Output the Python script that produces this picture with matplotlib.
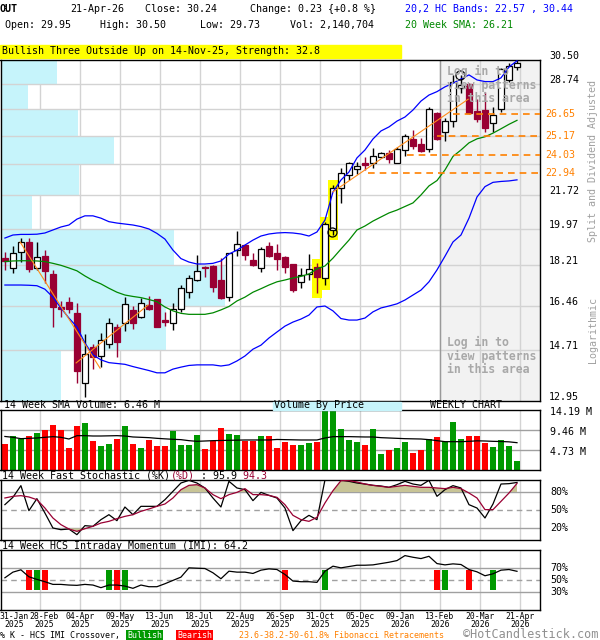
import matplotlib
matplotlib.use("Agg")
import matplotlib.pyplot as plt
from matplotlib.patches import Rectangle
from matplotlib.transforms import blended_transform_factory, offset_copy

plt.rcParams['font.family'] = ['DejaVu Sans Mono']

W, H = 600, 640

# weekly candles, 31-Jan-2025 .. 21-Apr-2026
opens = [18.54, 18.08, 18.81, 19.29, 18.10, 18.63, 17.82, 16.41, 16.59, 16.15,
         13.54, 14.84, 14.50, 14.93, 15.58, 15.74, 16.28, 16.00, 16.48, 16.72,
         15.87, 15.74, 16.31, 17.04, 17.55, 18.14, 18.18, 17.55, 16.80, 18.92,
         19.16, 18.45, 18.08, 19.11, 18.79, 18.60, 18.27, 17.45, 17.82, 18.14,
         17.63, 19.90, 22.09, 22.83, 23.18, 23.56, 23.52, 23.91, 24.12, 23.56,
         24.33, 24.99, 24.70, 24.39, 26.72, 25.47, 26.19, 28.41, 28.70, 26.85,
         26.90, 26.02, 26.95, 29.01, 29.95]
highs = [18.83, 19.11, 19.48, 19.48, 19.32, 18.92, 18.00, 16.66, 16.83, 16.55,
         15.32, 14.93, 15.37, 15.94, 15.71, 16.80, 16.44, 16.76, 16.86, 16.74,
         16.21, 16.55, 17.33, 17.77, 18.68, 18.16, 18.23, 18.57, 18.79, 19.85,
         19.18, 18.79, 19.08, 19.29, 19.20, 18.63, 18.29, 18.08, 18.73, 18.30,
         20.31, 22.28, 23.24, 23.58, 23.62, 23.91, 24.43, 24.22, 24.33, 24.53,
         25.35, 25.58, 25.06, 27.12, 26.74, 26.34, 29.39, 29.39, 28.77, 27.64,
         28.17, 27.12, 29.86, 30.30, 30.50]
lows = [18.00, 17.88, 18.35, 17.92, 18.00, 17.43, 15.58, 16.00, 16.15, 13.54,
        13.08, 14.02, 14.10, 14.78, 14.48, 15.45, 15.51, 15.94, 16.28, 15.58,
        15.63, 15.48, 16.21, 16.78, 17.52, 17.67, 17.04, 16.72, 16.66, 18.63,
        18.45, 18.18, 17.92, 18.60, 18.00, 17.88, 17.04, 17.19, 17.55, 16.97,
        17.33, 19.65, 21.28, 22.56, 22.91, 23.14, 23.26, 23.87, 23.56, 23.52,
        23.96, 24.37, 24.22, 24.22, 24.95, 24.87, 25.80, 28.09, 26.66, 26.12,
        25.43, 25.47, 26.79, 28.88, 29.73]
closes = [18.41, 18.77, 19.29, 18.05, 18.60, 17.97, 16.41, 16.31, 16.31, 13.98,
          14.57, 14.48, 15.09, 15.74, 15.03, 16.51, 15.74, 16.55, 16.32, 15.61,
          15.79, 16.31, 17.19, 17.63, 17.96, 18.08, 17.26, 16.76, 18.77, 19.20,
          18.68, 18.23, 18.95, 18.64, 18.50, 18.14, 17.11, 17.77, 18.03, 17.70,
          20.19, 22.09, 22.95, 23.56, 23.37, 23.42, 23.96, 24.16, 23.76, 24.37,
          25.23, 24.57, 24.29, 26.95, 25.03, 26.19, 28.89, 28.65, 26.68, 26.28,
          25.69, 26.56, 29.81, 30.01, 30.24]

# 20,2 bands and 20 week SMA
upper_band = [19.50, 19.65, 19.68, 19.68, 19.69, 19.75, 19.90, 20.05, 20.15, 20.45,
              20.62, 20.62, 20.50, 20.32, 20.25, 20.20, 20.15, 20.07, 19.95, 19.73,
              19.45, 18.92, 18.52, 18.36, 18.27, 18.27, 18.30, 18.41, 18.73, 18.92,
              19.16, 19.40, 19.60, 19.70, 19.75, 19.77, 19.75, 19.70, 19.60, 19.80,
              20.40, 21.89, 22.56, 23.02, 23.85, 24.33, 25.01, 25.52, 25.78, 26.16,
              26.43, 26.90, 27.51, 27.93, 28.17, 28.51, 28.77, 29.08, 29.38, 29.01,
              28.89, 28.89, 29.16, 29.97, 30.44]
lower_band = [17.33, 17.33, 17.33, 17.32, 17.30, 17.15, 16.81, 16.36, 15.95, 15.60,
              14.98, 14.54, 14.36, 14.26, 14.23, 14.20, 14.12, 14.05, 13.98, 13.90,
              13.90, 14.03, 14.10, 14.16, 14.18, 14.18, 14.18, 14.14, 14.18, 14.32,
              14.50, 14.75, 14.90, 15.17, 15.40, 15.63, 15.79, 15.91, 16.07, 16.40,
              16.44, 16.24, 15.93, 15.87, 15.87, 15.95, 16.20, 16.36, 16.44, 16.53,
              16.69, 16.90, 17.11, 17.47, 18.00, 18.63, 19.31, 19.65, 20.50, 21.62,
              22.19, 22.43, 22.48, 22.51, 22.57]
sma20 = [18.38, 18.41, 18.42, 18.42, 18.41, 18.38, 18.30, 18.21, 18.09, 17.96,
         17.73, 17.53, 17.38, 17.19, 17.02, 16.90, 16.84, 16.79, 16.71, 16.62,
         16.40, 16.24, 16.14, 16.10, 16.10, 16.10, 16.16, 16.28, 16.42, 16.65,
         16.81, 17.02, 17.17, 17.33, 17.47, 17.55, 17.64, 17.71, 17.82, 18.05,
         18.18, 18.54, 18.97, 19.40, 19.90, 20.10, 20.35, 20.56, 20.77, 20.92,
         21.11, 21.30, 21.73, 22.23, 22.53, 23.14, 23.94, 24.33, 24.77, 25.02,
         25.15, 25.38, 25.66, 25.95, 26.21]

volume = [6.23, 8.04, 7.33, 8.12, 8.83, 9.54, 10.73, 9.46, 5.21, 10.49,
          11.20, 6.94, 5.76, 6.23, 7.33, 10.49, 6.23, 5.21, 7.10, 5.76,
          5.76, 9.31, 5.91, 5.91, 8.36, 4.97, 6.78, 9.94, 8.60, 8.36,
          6.94, 6.94, 8.04, 8.04, 5.21, 6.70, 5.91, 5.91, 6.39, 6.70,
          15.60, 15.20, 9.70, 7.10, 6.62, 5.91, 9.70, 3.79, 4.73, 5.21,
          6.62, 4.02, 4.73, 7.26, 7.81, 6.62, 11.36, 7.33, 8.04, 8.04,
          6.47, 5.44, 7.10, 5.68, 2.14]
vol_sma14 = [7.93, 7.73, 7.41, 7.49, 7.57, 7.73, 7.89, 7.73, 7.33, 8.12,
             8.12, 8.04, 8.04, 8.08, 8.12, 8.04, 7.81, 7.73, 7.65, 7.49,
             7.37, 7.26, 7.18, 6.94, 6.78, 6.86, 6.94, 6.98, 7.02, 7.06,
             7.10, 7.10, 7.10, 7.10, 7.22, 7.18, 7.14, 7.10, 7.10, 7.10,
             7.57, 7.89, 7.89, 7.89, 7.85, 7.81, 7.81, 7.65, 7.57, 7.49,
             7.41, 7.37, 7.33, 7.18, 6.94, 6.70, 6.70, 6.70, 6.78, 6.90,
             6.86, 6.78, 6.74, 6.66, 6.46]

stoch_k = [58.9, 71.1, 90.6, 48.9, 68.9, 45.0, 20.0, 17.2, 18.3, 8.9,
           23.9, 22.8, 33.9, 42.2, 32.2, 55.0, 42.2, 56.1, 56.1, 56.1,
           67.2, 81.1, 95.0, 99.4, 95.0, 86.7, 70.0, 55.0, 97.8, 86.7,
           83.9, 65.6, 79.4, 74.4, 70.0, 53.3, 15.6, 32.2, 41.1, 33.9,
           100.0, 100.0, 100.0, 97.8, 95.0, 93.3, 91.1, 90.0, 87.8, 92.2,
           97.8, 93.3, 91.1, 99.4, 72.8, 83.9, 90.6, 86.7, 58.9, 53.3,
           36.7, 60.0, 93.3, 93.9, 95.9]
stoch_d = [70.0, 72.8, 73.9, 71.7, 67.2, 53.3, 36.7, 25.6, 18.3, 14.4,
           18.9, 22.8, 28.3, 31.1, 35.6, 39.4, 42.2, 47.8, 51.7, 56.1,
           60.0, 70.0, 83.9, 91.1, 92.2, 86.7, 75.6, 68.9, 75.6, 79.4,
           85.6, 75.6, 75.6, 74.4, 71.1, 58.9, 41.1, 33.9, 31.1, 37.8,
           61.7, 82.2, 98.9, 98.9, 96.7, 93.3, 91.1, 89.4, 87.8, 89.4,
           91.1, 89.4, 87.8, 87.8, 86.7, 85.6, 87.8, 85.6, 78.3, 70.0,
           50.6, 50.6, 64.4, 78.3, 94.3]

imi = [53.3, 62.8, 66.7, 55.0, 50.6, 46.7, 42.2, 42.2, 41.1, 40.6,
       42.2, 41.1, 36.7, 41.1, 41.1, 39.4, 35.6, 41.1, 38.3, 38.3,
       43.3, 48.9, 54.4, 70.0, 69.4, 68.9, 61.7, 51.7, 64.4, 62.8,
       62.8, 60.6, 66.1, 68.3, 67.2, 58.9, 47.8, 46.7, 46.7, 45.6,
       64.4, 72.8, 70.0, 72.2, 74.4, 74.4, 75.0, 77.2, 79.4, 82.2,
       90.6, 87.8, 85.6, 89.4, 77.2, 75.0, 76.7, 75.6, 67.2, 63.3,
       56.7, 60.0, 66.1, 67.2, 64.2]
bull_cross = [4, 13, 15, 40, 55, 61]
bear_cross = [3, 5, 14, 35, 54, 58]

# volume by price, price bands between the axis ticks (relative volume)
price_ticks = [12.95, 14.71, 16.46, 18.21, 19.97, 21.72, 23.48, 25.23, 26.99, 28.74, 30.50]
vbp_volume = [60, 165, 224, 173, 31, 78, 113, 77, 27, 56]

fib_levels = [26.65, 25.17, 24.03, 22.94]
fib_start = [56, 54, 50.2, 45.4]
trend_lines = [((1.9, 19.31), (11.9, 14.06)),
               ((8.9, 14.25), (17.9, 16.48)),
               ((41.0, 21.90), (57.9, 27.64))]
pattern_idx = [39, 40, 41]
circles = [(40.9, 19.81), (56.9, 29.39)]

date_idx = [0, 4, 9, 14, 19, 24, 29, 34, 39, 44, 49, 54, 59, 64]
date_labels = ['31-Jan\n2025', '28-Feb\n2025', '04-Apr\n2025', '09-May\n2025',
               '13-Jun\n2025', '18-Jul\n2025', '22-Aug\n2025', '26-Sep\n2025',
               '31-Oct\n2025', '05-Dec\n2025', '09-Jan\n2026', '13-Feb\n2026',
               '20-Mar\n2026', '21-Apr\n2026']

MAROON = '#990033'
FS = 7.2

x = list(range(len(closes)))
up = [c >= o for o, c in zip(opens, closes)]
grid_x = [i + 0.375 for i in date_idx[1:]]
xlim = (-0.55, 66.875)

fig = plt.figure(figsize=(W / 100, H / 100), dpi=100)


def rect(x0, y0, x1, y1):
    return [x0 / W, 1 - y1 / H, (x1 - x0) / W, (y1 - y0) / H]


def ftext(px, py, s, **kw):
    kw.setdefault('fontsize', FS)
    kw.setdefault('va', 'center')
    fig.text(px / W, 1 - py / H, s, **kw)


def style(ax):
    ax.set_xlim(*xlim)
    ax.set_xticks([])
    ax.set_yticks([])
    for sp in ax.spines.values():
        sp.set_linewidth(1.0)
        sp.set_color('black')
    for gx in grid_x:
        ax.axvline(gx, color='#d3d3d3', lw=1.0, zorder=0.5)


# ---------- header ----------
ftext(0, 9, 'OUT', fontweight='bold')
ftext(70, 9, '21-Apr-26')
ftext(145, 9, 'Close: 30.24')
ftext(250, 9, 'Change: 0.23 {+0.8 %}')
ftext(405, 9, '20,2 HC Bands: 22.57 , 30.44', color='#0000ff')
ftext(5, 25, 'Open: 29.95')
ftext(100, 25, 'High: 30.50')
ftext(200, 25, 'Low: 29.73')
ftext(290, 25, 'Vol: 2,140,704')
ftext(405, 25, '20 Week SMA: 26.21', color='#008800')
fig.patches.append(Rectangle((0, 1 - 58 / H), 401 / W, 13 / H, transform=fig.transFigure,
                             color='#ffff00', zorder=0))
ftext(2, 51.5, 'Bullish Three Outside Up on 14-Nov-25, Strength: 32.8')

# ---------- main price panel ----------
ax = fig.add_axes(rect(0.5, 60, 540, 401))
style(ax)
ax.set_yscale('log')
ax.set_ylim(price_ticks[0], price_ticks[-1])
ax.minorticks_off()
ax.set_yticks([])

for p in price_ticks[1:-1]:
    ax.axhline(p, color='#d3d3d3', lw=1.0, zorder=1.5)

# gray login area
ax.axvspan(54.375, xlim[1], color='#f2f2f2', zorder=0.2, lw=0)
ax.axvline(54.375, color='#9a9a9a', lw=1.0, zorder=1.6)

# volume by price
vmax = max(vbp_volume)
for k, v in enumerate(vbp_volume):
    lo, hi = price_ticks[k], price_ticks[k + 1]
    ax.barh(lo, v / vmax * 28.0, height=hi - lo, left=xlim[0], align='edge',
            color='#c6f4fb', lw=0, zorder=1)

# pattern highlight
for i in pattern_idx:
    ax.bar(i, highs[i] * 1.012 - lows[i] * 0.988, bottom=lows[i] * 0.988, width=1.25,
           color='#ffff00', lw=0, zorder=2)

# candles
for i in x:
    col = 'black' if up[i] else MAROON
    ax.vlines(i, lows[i], highs[i], color=col, lw=1.0, zorder=3)
    lo, hi = min(opens[i], closes[i]), max(opens[i], closes[i])
    ax.bar(i, hi - lo, bottom=lo, width=0.75,
           facecolor='white' if up[i] else MAROON, edgecolor=col, lw=0.9, zorder=4)

ax.plot(x, upper_band, color='#0000ff', lw=0.9, zorder=5)
ax.plot(x, lower_band, color='#0000ff', lw=0.9, zorder=5)
ax.plot(x, sma20, color='#008800', lw=0.9, zorder=5)

for (x0, p0), (x1, p1) in trend_lines:
    ax.plot([x0, x1], [p0, p1], color='#ff8c1a', lw=0.8, zorder=5)
for cx, cp in circles:
    ax.plot(cx, cp, 'o', ms=6.5, mfc='none', mec='black', mew=0.9, zorder=6)

for lvl, xs in zip(fib_levels, fib_start):
    ax.plot([xs, xlim[1]], [lvl, lvl], color='#ff8000', lw=1.2, dashes=(4, 3), zorder=5)

ax.text(55.2, 30.1, 'Log in to\nview patterns\nin this area', fontsize=8.3, fontweight='bold',
        color='#a8a8a8', va='top', ha='left', linespacing=1.05, zorder=7)
ax.text(55.2, 15.25, 'Log in to\nview patterns\nin this area', fontsize=8.3, fontweight='bold',
        color='#a8a8a8', va='top', ha='left', linespacing=1.05, zorder=7)

tr = blended_transform_factory(fig.transFigure, ax.transData)
tr_up = offset_copy(tr, fig=fig, x=0, y=4, units='dots')
for p in price_ticks:
    if 22.5 < p < 27.5:
        continue
    ax.text(549 / W, p, f'{p:.2f}', transform=tr_up, fontsize=FS, va='center', clip_on=False)
for lvl in fib_levels:
    ax.text(545 / W, lvl, f'{lvl:.2f}', transform=tr, fontsize=FS, va='center',
            color='#ff8000', clip_on=False)

ftext(593, 161, 'Split and Dividend Adjusted', rotation=90, ha='center', color='#a0a0a0')
ftext(593, 330, 'Logarithmic', rotation=90, ha='center', color='#a0a0a0')

# ---------- volume panel ----------
ftext(4, 405, '14 Week SMA Volume: 6.46 M')
fig.patches.append(Rectangle((273 / W, 1 - 410 / H), 128 / W, 8 / H, transform=fig.transFigure,
                             color='#c6f4fb', zorder=0))
ftext(274, 405, 'Volume By Price')
ftext(430, 405, 'WEEKLY CHART')

axv = fig.add_axes(rect(0.5, 410, 540, 470))
style(axv)
vol_top = 14.19
axv.set_ylim(0, vol_top)
for g in (vol_top / 3, vol_top * 2 / 3):
    axv.axhline(g, color='#a0a0a0', lw=1.0, zorder=0.6)
axv.bar(x, volume, width=0.75, color=['#009900' if u else '#ff0000' for u in up], zorder=2)
axv.plot(x, vol_sma14, color='black', lw=0.9, zorder=3)
trv = blended_transform_factory(fig.transFigure, axv.transData)
trv = offset_copy(trv, fig=fig, x=0, y=-2, units='dots')
for g in (vol_top, vol_top * 2 / 3, vol_top / 3):
    axv.text(550 / W, g, f'{g:.2f} M', transform=trv, fontsize=FS, va='center', clip_on=False)

# ---------- stochastic panel ----------
ftext(2, 476, '14 Week Fast Stochastic (%K)')
ftext(2 + 28 * 6.02, 476, '(%D)', color=MAROON)
ftext(2 + 32 * 6.02, 476, ' : 95.9')
ftext(2 + 39 * 6.02, 476, ' 94.3', color=MAROON)

axs = fig.add_axes(rect(0.5, 480, 540, 540))
style(axs)
axs.set_ylim(0, 100)
axs.axhline(80, color='#a0a0a0', lw=1.0, zorder=0.6)
axs.axhline(20, color='#a0a0a0', lw=1.0, zorder=0.6)
axs.axhline(50, color='#a0a0a0', lw=1.0, dashes=(4, 3), zorder=0.6)
axs.fill_between(x, stoch_d, 80, where=[d > 80 for d in stoch_d], interpolate=True,
                 color='#c8c496', lw=0, zorder=1)
axs.fill_between(x, stoch_d, 20, where=[d < 20 for d in stoch_d], interpolate=True,
                 color='#c8c496', lw=0, zorder=1)
axs.plot(x, stoch_k, color='black', lw=0.9, zorder=3)
axs.plot(x, stoch_d, color=MAROON, lw=0.9, zorder=3)
trs = blended_transform_factory(fig.transFigure, axs.transData)
for g in (80, 50, 20):
    axs.text(550 / W, g, f'{g}%', transform=trs, fontsize=FS, va='center', clip_on=False)

# ---------- IMI panel ----------
ftext(2, 546, '14 Week HCS Intraday Momentum (IMI): 64.2')

axi = fig.add_axes(rect(0.5, 550, 540, 609.5))
style(axi)
axi.set_ylim(0, 100)
axi.axhline(70, color='#a0a0a0', lw=1.0, zorder=0.6)
axi.axhline(30, color='#a0a0a0', lw=1.0, zorder=0.6)
axi.axhline(50, color='#a0a0a0', lw=1.0, dashes=(4, 3), zorder=0.6)
axi.bar(bull_cross, 34, bottom=33, width=0.75, color='#009900', zorder=2)
axi.bar(bear_cross, 34, bottom=33, width=0.75, color='#ff0000', zorder=2)
axi.plot(x, imi, color='black', lw=0.9, zorder=3)
tri = blended_transform_factory(fig.transFigure, axi.transData)
for g in (70, 50, 30):
    axi.text(550 / W, g, f'{g}%', transform=tri, fontsize=FS, va='center', clip_on=False)

# first two date labels are nudged right so the first one stays inside the figure
date_pos = [i + 0.375 for i in date_idx]
date_pos[0] = 1.2
date_pos[1] = 4.85
axi.set_xticks(date_pos)
axi.set_xticklabels(date_labels, fontsize=5.9, linespacing=0.95)
axi.tick_params(axis='x', length=0, pad=1.5)

# ---------- footer ----------
ftext(0, 635.5, '% K - HCS IMI Crossover,', fontsize=6.0)
ftext(127, 635.5, 'Bullish', fontsize=6.0, color='white',
      bbox=dict(facecolor='#009900', edgecolor='none', pad=0.8))
ftext(177, 635.5, 'Bearish', fontsize=6.0, color='white',
      bbox=dict(facecolor='#ff0000', edgecolor='none', pad=0.8))
ftext(239, 635.5, '23.6-38.2-50-61.8% Fibonacci Retracements', fontsize=6.0, color='#ff8000')
ftext(463, 634.5, '\u00a9HotCandlestick.com', fontsize=8.6, color='#909090')

fig.savefig('out.png', dpi=100)
